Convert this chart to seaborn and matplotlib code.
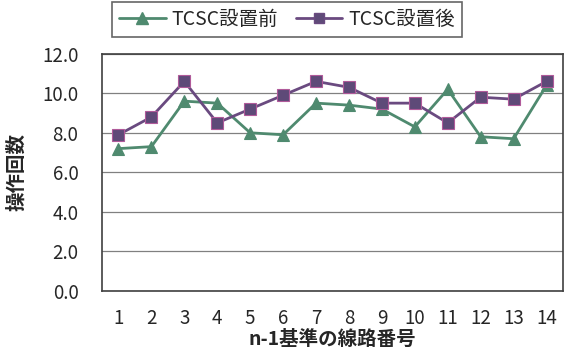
import matplotlib
matplotlib.use("Agg")
import matplotlib.pyplot as plt
from matplotlib.lines import Line2D
import seaborn as sns
import pandas as pd

# 線路番号と操作回数
lines = list(range(1, 15))
before = [7.2, 7.3, 9.6, 9.5, 8.0, 7.9, 9.5, 9.4, 9.2, 8.3, 10.2, 7.8, 7.7, 10.4]
after = [7.9, 8.8, 10.6, 8.5, 9.2, 9.9, 10.6, 10.3, 9.5, 9.5, 8.5, 9.8, 9.7, 10.6]
series_names = ["TCSC設置前", "TCSC設置後"]
y_ticks = [0.0, 2.0, 4.0, 6.0, 8.0, 10.0, 12.0]

sns.set_theme(style="white")
plt.rcParams["font.family"] = ["Noto Sans CJK JP", "DejaVu Sans"]

df = pd.DataFrame({
    "line": lines * 2,
    "count": before + after,
    "series": [series_names[0]] * len(lines) + [series_names[1]] * len(lines),
})

GREEN = "#4f8a6f"
PURPLE = "#6a4a80"
SQUARE_FACE = "#5e4a78"
SQUARE_EDGE = "#b05a9a"

fig = plt.figure(figsize=(5.68, 3.57), dpi=100)
ax = fig.add_axes([102 / 568, 1 - 291 / 357, (563 - 102) / 568, (291 - 53.7) / 357])

palette = {series_names[0]: GREEN, series_names[1]: PURPLE}
sns.lineplot(data=df, x="line", y="count", hue="series", style="series",
             markers={series_names[0]: "^", series_names[1]: "s"},
             dashes=False, palette=palette, linewidth=2.0, markersize=8.5,
             markeredgewidth=0.8, ax=ax, legend=False)
ax.lines[0].set_markeredgecolor(GREEN)
ax.lines[0].set_markerfacecolor(GREEN)
ax.lines[1].set_markeredgecolor(SQUARE_EDGE)
ax.lines[1].set_markerfacecolor(SQUARE_FACE)

ax.set_xlim(0.5, 14.5)
ax.set_ylim(0, 12)
ax.set_yticks(y_ticks)
ax.set_yticklabels([f"{v:.1f}" for v in y_ticks], fontsize=13.5)
ax.yaxis.grid(True, color="#808080", linewidth=0.9)
ax.set_axisbelow(True)

# カテゴリ境界の目盛りと番号ラベル
ax.set_xticks([i + 0.5 for i in lines[:-1]])
ax.set_xticklabels([])
ax.set_xticks(lines, minor=True)
ax.set_xticklabels([str(i) for i in lines], minor=True, fontsize=13.5)
ax.tick_params(axis="x", which="major", direction="in", length=5, width=1, color="#404040")
ax.tick_params(axis="x", which="minor", length=0, pad=12)
ax.tick_params(axis="y", length=0, pad=17)

for sp in ax.spines.values():
    sp.set_color("#404040")
    sp.set_linewidth(1.2)

ax.set_xlabel("n-1基準の線路番号", fontsize=14, fontweight="bold", labelpad=1)
ax.set_ylabel("操作回数", fontsize=14, fontweight="bold", labelpad=11)

handles = [
    Line2D([], [], color=GREEN, marker="^", markersize=8, linewidth=2.0),
    Line2D([], [], color=PURPLE, marker="s", markersize=7, linewidth=2.0,
           markerfacecolor=SQUARE_FACE),
]
leg = fig.legend(handles, series_names, loc="center", bbox_to_anchor=(0.505, 0.945),
                 ncol=2, fontsize=14, frameon=True, fancybox=False,
                 edgecolor="#404040", handlelength=2.4, columnspacing=0.9,
                 borderpad=0.35, handletextpad=0.3)
leg.get_frame().set_linewidth(1.2)

fig.savefig("out.png", dpi=100)
